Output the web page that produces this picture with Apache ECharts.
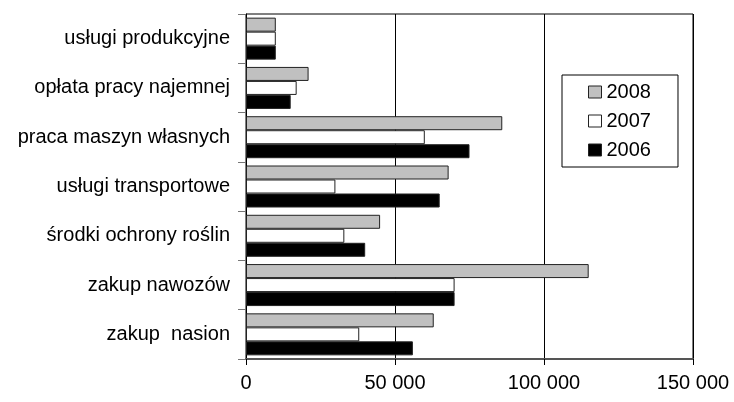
<!DOCTYPE html>
<html>
<head>
<meta charset="utf-8">
<script src="https://cdn.jsdelivr.net/npm/echarts@6/dist/echarts.min.js"></script>
<style>
html,body{margin:0;padding:0;background:#fff;}
#c{width:734px;height:402px;}
</style>
</head>
<body>
<div id="c"></div>
<script>
var categories = ['usługi produkcyjne','opłata pracy najemnej','praca maszyn własnych','usługi transportowe','środki ochrony roślin','zakup nawozów','zakup  nasion'];
var v2008 = [10000, 21000, 86000, 68000, 45000, 115000, 63000];
var v2007 = [10000, 17000, 60000, 30000, 33000, 70000, 38000];
var v2006 = [10000, 15000, 75000, 65000, 40000, 70000, 56000];
var seriesNames = ['2008','2007','2006'];
var xTicks = [0, 50000, 100000, 150000];

var chart = echarts.init(document.getElementById('c'));
function fmt(v){ return String(v).replace(/\B(?=(\d{3})+(?!\d))/g, ' '); }
var font = 'Liberation Sans, Arial, sans-serif';
var rev = function(a){ return a.slice().reverse(); };
function mk(name, data, color){
  return {
    name: name, type: 'bar', data: rev(data), barWidth: 14, barGap: '0%',
    itemStyle: {color: color, borderColor: '#222', borderWidth: 1},
    emphasis: {disabled: true}, animation: false
  };
}
chart.setOption({
  animation: false,
  grid: {left: 246, right: 41, top: 14, bottom: 43, show: true, borderColor: '#000', borderWidth: 1},
  legend: {
    data: seriesNames, orient: 'vertical', left: 562, top: 75,
    padding: [7, 27, 7, 26], itemGap: 9, itemWidth: 13, itemHeight: 12,
    borderColor: '#000', borderWidth: 1, backgroundColor: '#fff',
    textStyle: {fontFamily: font, fontSize: 20, color: '#000', lineHeight: 20},
    icon: 'rect',
    itemStyle: {borderColor: '#222', borderWidth: 1}
  },
  xAxis: {
    type: 'value', min: xTicks[0], max: xTicks[xTicks.length-1], interval: xTicks[1]-xTicks[0],
    axisLine: {show: true, lineStyle: {color: '#555', width: 2}},
    axisTick: {show: true, length: 6, lineStyle: {color: '#000'}},
    axisLabel: {formatter: fmt, fontFamily: font, fontSize: 20, color: '#000', margin: 14},
    splitLine: {show: true, lineStyle: {color: '#000', width: 1}}
  },
  yAxis: {
    type: 'category', data: rev(categories),
    axisLine: {show: true, lineStyle: {color: '#000', width: 1}},
    axisTick: {show: true, length: 8, lineStyle: {color: '#777'}},
    axisLabel: {fontFamily: font, fontSize: 20, color: '#000', margin: 16}
  },
  series: [
    mk('2008', v2008, '#c0c0c0'),
    mk('2007', v2007, '#ffffff'),
    mk('2006', v2006, '#000000')
  ]
});
</script>
</body>
</html>
